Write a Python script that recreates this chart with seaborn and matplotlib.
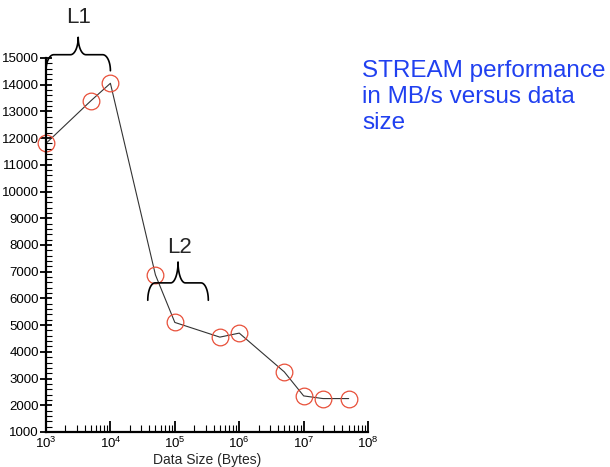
import numpy as np
import pandas as pd
import seaborn as sns
import matplotlib.pyplot as plt
from matplotlib.ticker import LogLocator, MultipleLocator, NullFormatter

# data
data_size = [1e3, 5e3, 1e4, 5e4, 1e5, 5e5, 1e6, 5e6, 1e7, 2e7, 5e7]
mb_per_s = [11800, 13400, 14050, 6880, 5100, 4550, 4700, 3250, 2350, 2250, 2250]
x_ticks = [1e3, 1e4, 1e5, 1e6, 1e7, 1e8]
x_labels = ['$10^{3}$', '$10^{4}$', '$10^{5}$', '$10^{6}$', '$10^{7}$', '$10^{8}$']

df = pd.DataFrame({'size': data_size, 'bw': mb_per_s})

sns.set_style("white")
plt.rcParams['font.family'] = ['Liberation Sans', 'DejaVu Sans']
plt.rcParams['mathtext.fontset'] = 'custom'
plt.rcParams['mathtext.rm'] = 'Liberation Sans'
plt.rcParams['mathtext.it'] = 'Liberation Sans'

fig = plt.figure(figsize=(6.1, 4.67), dpi=100)
ax = fig.add_axes([0.0754, 0.075, 0.528, 0.801])

sns.lineplot(x='size', y='bw', data=df, ax=ax, color='#333333', linewidth=0.8,
             marker='o', markersize=12, markerfacecolor='none',
             markeredgecolor='#e8503a', markeredgewidth=0.9, clip_on=False)

ax.set_xscale('log')
ax.set_xlim(1e3, 1e8)
ax.set_ylim(1000, 15000)
ax.set_xticks(x_ticks)
ax.set_xticklabels(x_labels)
ax.xaxis.set_minor_locator(LogLocator(base=10, subs=np.arange(2, 10)))
ax.xaxis.set_minor_formatter(NullFormatter())
ax.yaxis.set_major_locator(MultipleLocator(1000))
ax.yaxis.set_minor_locator(MultipleLocator(200))

for s in ['top', 'right']:
    ax.spines[s].set_visible(False)
for s in ['left', 'bottom']:
    ax.spines[s].set_linewidth(1.6)
    ax.spines[s].set_color('black')

ax.tick_params(which='both', left=True, bottom=True, colors='black')
ax.tick_params(axis='y', which='major', direction='inout', length=8, width=1.3, labelsize=9.5, pad=1)
ax.tick_params(axis='y', which='minor', direction='in', length=4, width=0.8)
ax.tick_params(axis='x', which='major', direction='in', length=8, width=1.3, labelsize=9.5, pad=3)
ax.tick_params(axis='x', which='minor', direction='in', length=5, width=0.8)
ax.set_xlabel('Data Size (Bytes)', fontsize=10, labelpad=1)
ax.set_ylabel('')


def brace(ax, lx0, lx1, y, drop, tip):
    # curly brace in log10(x) / data-y space
    r = (lx1 - lx0) * 0.12
    lm = (lx0 + lx1) / 2
    th = np.linspace(0, np.pi / 2, 20)
    xs = list(lx0 + r * (1 - np.cos(th))) + list(lm - r + r * np.sin(th))
    ys = list(y - drop + drop * np.sin(th)) + list(y + tip * (1 - np.cos(th)))
    xs = np.array(xs + [2 * lm - v for v in xs[::-1]])
    ys = np.array(ys + ys[::-1])
    ax.plot(10 ** xs, ys, color='black', lw=1.2, clip_on=False)


brace(ax, 3.0, 4.0, 15120, 600, 650)
brace(ax, 4.58, 5.52, 6580, 650, 780)

ax.text(10 ** 3.5, 16300, 'L1', fontsize=16, ha='center', va='baseline')
ax.text(10 ** 5.065, 7700, 'L2', fontsize=16, ha='center', va='baseline')

fig.text(0.594, 0.872, 'STREAM performance\nin MB/s versus data\nsize', color='#2040f0',
         fontsize=17.5, ha='left', va='top', linespacing=1.25)

plt.savefig('out.png', dpi=100)
